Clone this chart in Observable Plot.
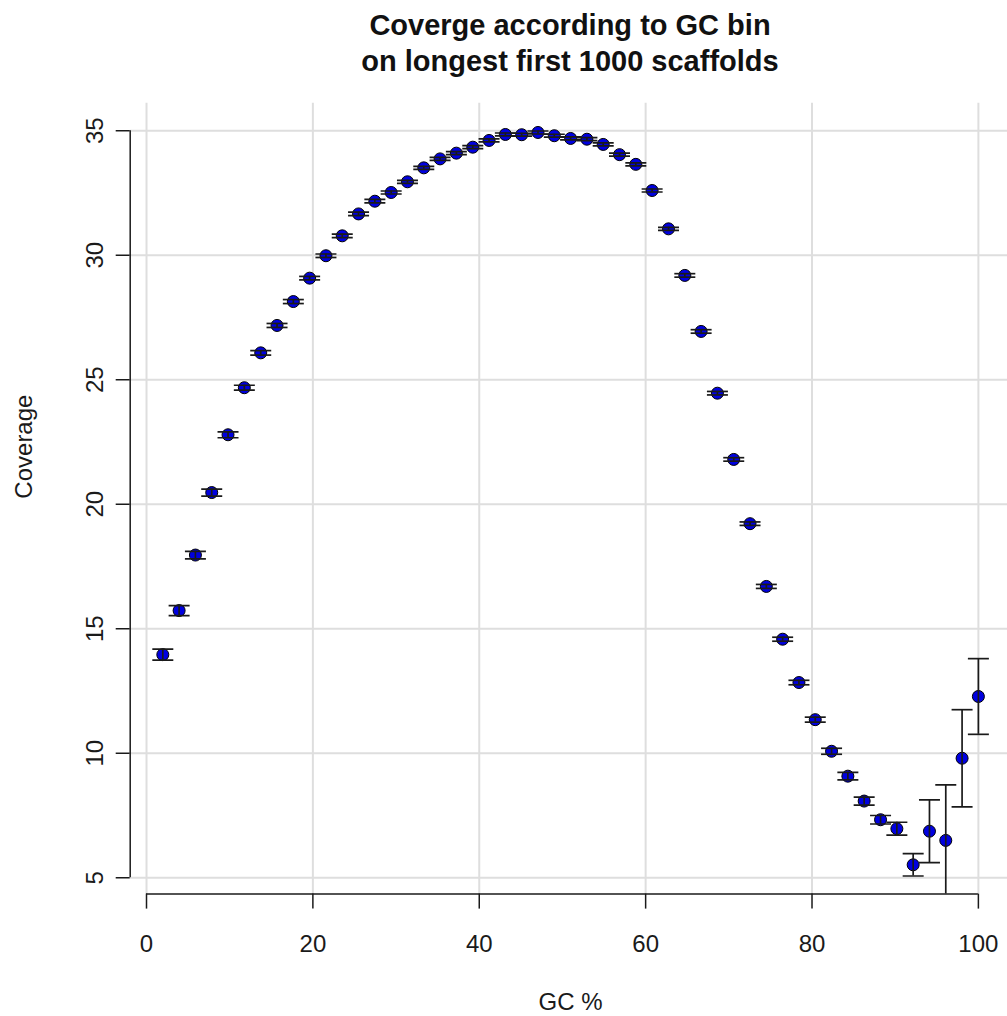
<!DOCTYPE html>
<html>
<head>
<meta charset="utf-8">
<script src="https://cdn.jsdelivr.net/npm/d3@7"></script>
<script src="https://cdn.jsdelivr.net/npm/@observablehq/plot@0.6"></script>
<style>
  html, body { margin: 0; padding: 0; background: #fff; overflow: hidden; }
  #chart { width: 1007px; height: 1016px; position: relative; }
  .title {
    margin-left: 130px; width: 880px; height: 80px; box-sizing: border-box;
    padding-top: 6.5px; text-align: center;
    font-family: "Liberation Sans", Arial, Helvetica, sans-serif;
    font-weight: bold; font-size: 29px; line-height: 36px; color: #111;
  }
  svg { display: block; }
</style>
</head>
<body>
<div id="chart">
  <div class="title">Coverge according to GC bin<br>on longest first 1000 scaffolds</div>
</div>
<script>
// GC bin centres (%)
const gc = [1.96, 3.92, 5.88, 7.84, 9.80, 11.76, 13.73, 15.69, 17.65, 19.61,
            21.57, 23.53, 25.49, 27.45, 29.41, 31.37, 33.33, 35.29, 37.25, 39.22,
            41.18, 43.14, 45.10, 47.06, 49.02, 50.98, 52.94, 54.90, 56.86, 58.82,
            60.78, 62.75, 64.71, 66.67, 68.63, 70.59, 72.55, 74.51, 76.47, 78.43,
            80.39, 82.35, 84.31, 86.27, 88.24, 90.20, 92.16, 94.12, 96.08, 98.04, 100];

// mean coverage per bin
const coverage = [13.96, 15.73, 17.96, 20.47, 22.79, 24.68, 26.08, 27.18, 28.14, 29.08,
                  29.98, 30.78, 31.66, 32.17, 32.52, 32.95, 33.51, 33.87, 34.10, 34.34,
                  34.61, 34.85, 34.84, 34.93, 34.80, 34.69, 34.66, 34.45, 34.04, 33.65,
                  32.60, 31.06, 29.19, 26.94, 24.46, 21.80, 19.22, 16.70, 14.58, 12.84,
                  11.35, 10.08, 9.08, 8.08, 7.33, 6.97, 5.52, 6.87, 6.50, 9.80, 12.28];

// standard error of the mean per bin
const stderr = [0.22, 0.20, 0.15, 0.14, 0.12, 0.10, 0.09, 0.08, 0.08, 0.07,
                0.07, 0.07, 0.07, 0.07, 0.06, 0.06, 0.06, 0.06, 0.06, 0.06,
                0.06, 0.06, 0.06, 0.06, 0.06, 0.06, 0.06, 0.06, 0.06, 0.06,
                0.06, 0.06, 0.07, 0.07, 0.07, 0.07, 0.07, 0.08, 0.08, 0.09,
                0.10, 0.12, 0.15, 0.16, 0.17, 0.26, 0.45, 1.26, 2.23, 1.95, 1.52];

const xTicks = [0, 20, 40, 60, 80, 100];
const yTicks = [5, 10, 15, 20, 25, 30, 35];

const rows = gc.map((g, i) => ({gc: g, coverage: coverage[i], se: stderr[i]}));

// plot region limits (data range padded by 4% on each side)
const xLim = [-1.96, 103.5];
const yLim = [4.344, 36.106];

// horizontal cap drawn as a symbol so its width stays in pixels
const cap = {
  draw(context, size) {
    const w = Math.sqrt(size / Math.PI);
    context.moveTo(-w, 0);
    context.lineTo(w, 0);
  }
};

const font = "Liberation Sans, Arial, Helvetica, sans-serif";
const ink = "#1a1a1a";

const chart = Plot.plot({
  width: 1007,
  height: 936,
  marginLeft: 129.7,
  marginRight: 0,
  marginTop: 22.7,
  marginBottom: 122.4,
  style: {fontFamily: font, background: "#fff"},
  x: {domain: xLim},
  y: {domain: yLim},
  marks: [
    Plot.ruleX(xTicks, {stroke: "#dedede", strokeWidth: 2}),
    Plot.ruleY(yTicks, {stroke: "#dedede", strokeWidth: 2}),
    Plot.ruleX([xLim[0]], {y1: yTicks[0], y2: yTicks[yTicks.length - 1], stroke: ink, strokeWidth: 1.5}),
    Plot.ruleY([yLim[0]], {x1: xTicks[0], x2: xTicks[xTicks.length - 1], stroke: ink, strokeWidth: 1.5}),
    Plot.axisX(xTicks, {tickSize: 15, tickPadding: 25.4, fontSize: 24, stroke: ink, fill: ink, strokeWidth: 1.5, label: null}),
    Plot.axisY(yTicks, {tickSize: 14, tickPadding: 13.5, tickRotate: -90, fontSize: 24, stroke: ink, fill: ink, strokeWidth: 1.5, label: null}),
    Plot.text(["GC %"], {frameAnchor: "bottom", x: (xLim[0] + 103.92) / 2, lineAnchor: "bottom", dy: 115.4, fontSize: 24, fill: ink}),
    Plot.text(["Coverage"], {frameAnchor: "left", rotate: -90, lineAnchor: "bottom", dx: -98.7, fontSize: 24, fill: ink}),
    Plot.dot(rows, {x: "gc", y: "coverage", r: 6, fill: "#0000e0", stroke: "#000", strokeWidth: 1}),
    Plot.ruleX(rows, {x: "gc", y1: d => d.coverage - d.se, y2: d => d.coverage + d.se, stroke: ink, strokeWidth: 1.7, clip: true}),
    Plot.dot(rows, {x: "gc", y: d => d.coverage + d.se, symbol: cap, r: 10.5, fill: "none", stroke: ink, strokeWidth: 1.7, clip: true}),
    Plot.dot(rows, {x: "gc", y: d => d.coverage - d.se, symbol: cap, r: 10.5, fill: "none", stroke: ink, strokeWidth: 1.7, clip: true})
  ]
});

document.getElementById("chart").appendChild(chart);
</script>
</body>
</html>
